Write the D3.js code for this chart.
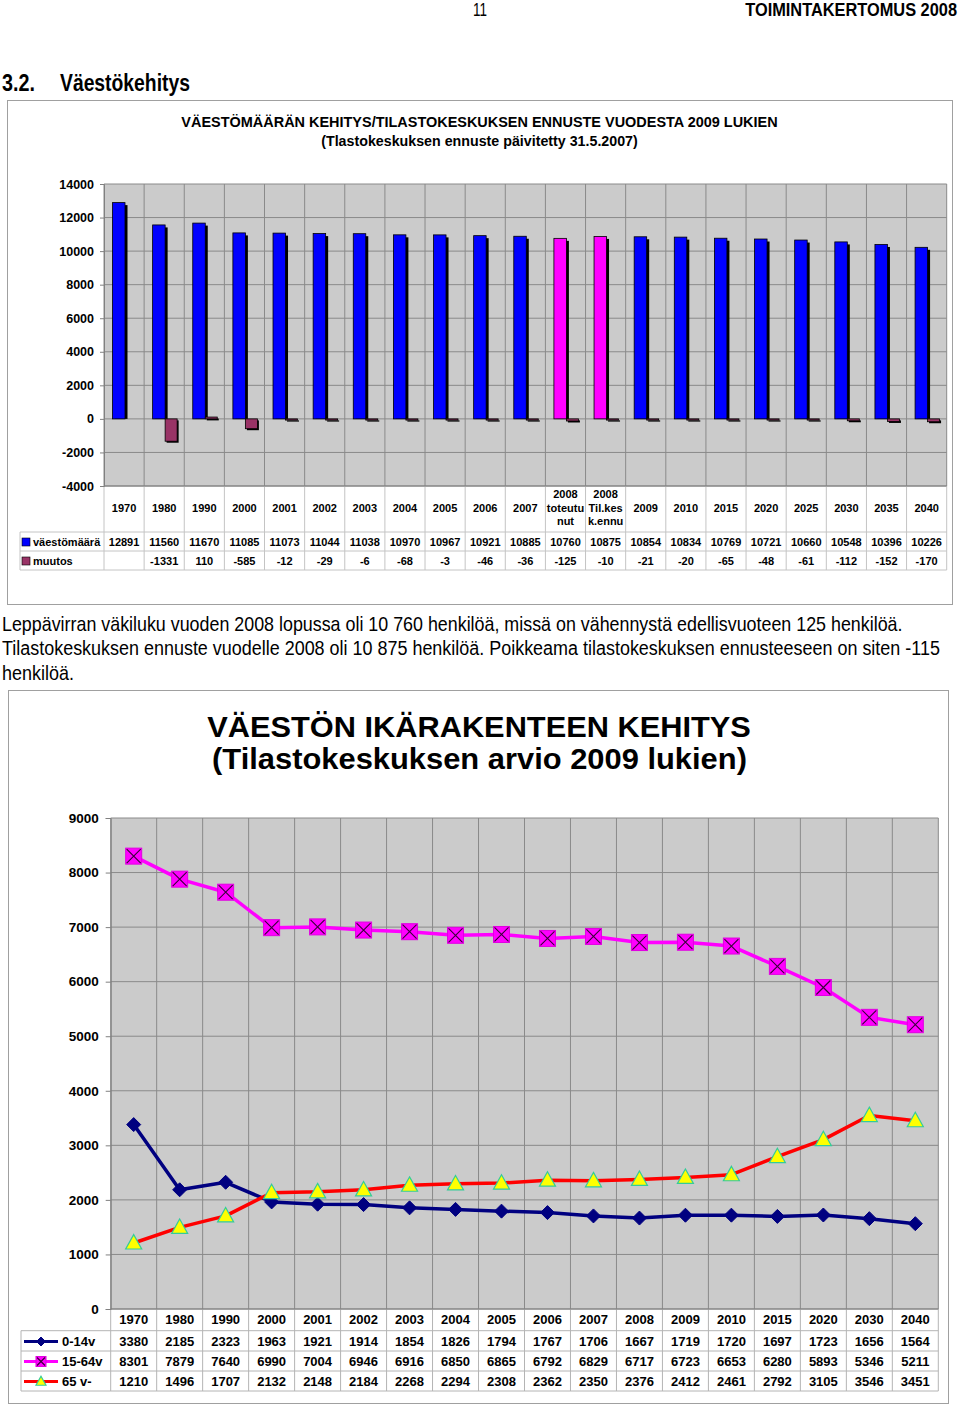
<!DOCTYPE html>
<html><head><meta charset="utf-8">
<script src="https://cdn.jsdelivr.net/npm/d3@7"></script>
<style>body{margin:0;background:#fff}svg{display:block}</style>
</head><body>
<script>
// ---------- DATA ----------
const topCategories = ["1970","1980","1990","2000","2001","2002","2003","2004","2005","2006","2007","2008\ntoteutu\nnut","2008\nTil.kes\nk.ennu","2009","2010","2015","2020","2025","2030","2035","2040"];
const vaestomaara = [12891,11560,11670,11085,11073,11044,11038,10970,10967,10921,10885,10760,10875,10854,10834,10769,10721,10660,10548,10396,10226];
const muutos = [null,-1331,110,-585,-12,-29,-6,-68,-3,-46,-36,-125,-10,-21,-20,-65,-48,-61,-112,-152,-170];
const topTicks = [14000,12000,10000,8000,6000,4000,2000,0,-2000,-4000];
const highlighted = ["2008\ntoteutu\nnut","2008\nTil.kes\nk.ennu"];

const ageYears = ["1970","1980","1990","2000","2001","2002","2003","2004","2005","2006","2007","2008","2009","2010","2015","2020","2030","2040"];
const age0_14 = [3380,2185,2323,1963,1921,1914,1854,1826,1794,1767,1706,1667,1719,1720,1697,1723,1656,1564];
const age15_64 = [8301,7879,7640,6990,7004,6946,6916,6850,6865,6792,6829,6717,6723,6653,6280,5893,5346,5211];
const age65 = [1210,1496,1707,2132,2148,2184,2268,2294,2308,2362,2350,2376,2412,2461,2792,3105,3546,3451];
const ageTicks = [0,1000,2000,3000,4000,5000,6000,7000,8000,9000];
const ageSeriesNames = ["0-14v","15-64v","65 v-"];

// ---------- SETUP ----------
const SANS = "'Liberation Sans', Arial, Helvetica, sans-serif";
const svg = d3.select("body").append("svg").attr("width",960).attr("height",1406);
svg.append("rect").attr("width",960).attr("height",1406).attr("fill","#fff");

// text squeezed horizontally to a target width via a real transform
function T(o){
  const g = svg.append("g");
  const t = g.append("text").attr("x",0).attr("y",0).text(o.text)
    .attr("font-family",SANS).attr("font-size",o.size)
    .attr("font-weight",o.weight||"normal").attr("text-anchor",o.anchor||"start")
    .attr("fill","#000");
  let sx = 1;
  if(o.len){ const nat = t.node().getComputedTextLength(); sx = o.len/nat; }
  g.attr("transform",`translate(${o.x},${o.y}) scale(${sx},1)`);
  return t;
}

// Page header
T({x:480,y:16,text:"11",size:18,anchor:"middle",len:14});
T({x:957,y:16,text:"TOIMINTAKERTOMUS 2008",size:18,weight:"bold",anchor:"end",len:212});
T({x:2,y:91,text:"3.2.",size:23,weight:"bold",len:33});
T({x:60,y:91,text:"Väestökehitys",size:23,weight:"bold",len:130});

// ---------- TOP CHART ----------
svg.append("rect").attr("x",7.5).attr("y",100.5).attr("width",945).attr("height",504)
  .attr("fill","none").attr("stroke","#a0a0a0");
T({x:479.5,y:127,text:"VÄESTÖMÄÄRÄN KEHITYS/TILASTOKESKUKSEN ENNUSTE VUODESTA 2009 LUKIEN",size:14,weight:"bold",anchor:"middle",len:597});
T({x:479.5,y:146,text:"(Tlastokeskuksen ennuste päivitetty 31.5.2007)",size:14,weight:"bold",anchor:"middle",len:317});

const tx = d3.scaleBand().domain(d3.range(topCategories.length)).range([104,946.7]).padding(0);
const ty = d3.scaleLinear().domain([-4000,14000]).range([486,184]);
const bw = tx.bandwidth();
const gTop = svg.append("g");
gTop.append("rect").attr("x",104).attr("y",184).attr("width",946.7-104).attr("height",486-184).attr("fill","#cbcbcb");
gTop.selectAll(".hg").data(topTicks).join("line")
  .attr("x1",104).attr("x2",946.7).attr("y1",d=>ty(d)).attr("y2",d=>ty(d))
  .attr("stroke","#8a8a8a").attr("stroke-width",1);
gTop.selectAll(".vg").data(d3.range(topCategories.length+1)).join("line")
  .attr("x1",i=>104+i*bw).attr("x2",i=>104+i*bw).attr("y1",184).attr("y2",486)
  .attr("stroke","#8a8a8a").attr("stroke-width",1);
gTop.selectAll(".vt").data(d3.range(topCategories.length+1)).join("line")
  .attr("x1",i=>104+i*bw).attr("x2",i=>104+i*bw).attr("y1",486).attr("y2",570)
  .attr("stroke","#c4c4c4").attr("stroke-width",1);

// bars
const bars = gTop.append("g");
vaestomaara.forEach((v,i)=>{
  const x = tx(i)+8.5, w=12.5, y=ty(v), h=ty(0)-ty(v);
  bars.append("rect").attr("x",x+2.5).attr("y",y+2.5).attr("width",w).attr("height",h-2.5).attr("fill","#000");
  bars.append("rect").attr("x",x).attr("y",y).attr("width",w).attr("height",h)
    .attr("fill",highlighted.includes(topCategories[i])?"#ff00ff":"#0000ff").attr("stroke","#000").attr("stroke-width",0.8);
});
muutos.forEach((v,i)=>{
  if(v===null) return;
  const x = tx(i)+21, w=12;
  const y0 = ty(Math.max(0,v)), y1 = ty(Math.min(0,v));
  const h = Math.max(1.2,y1-y0);
  bars.append("rect").attr("x",x+1.5).attr("y",y0+1.5).attr("width",w).attr("height",h).attr("fill","#000");
  bars.append("rect").attr("x",x).attr("y",y0).attr("width",w).attr("height",h)
    .attr("fill","#993366").attr("stroke","#000").attr("stroke-width",0.8);
});

// y axis
const yAxT = svg.append("g").attr("transform","translate(104,0)")
  .call(d3.axisLeft(ty).tickValues(topTicks).tickSize(4).tickPadding(6).tickFormat(d=>String(d)));
yAxT.select(".domain").attr("stroke","#808080");
yAxT.selectAll(".tick line").attr("stroke","#808080");
yAxT.selectAll("text").attr("font-family",SANS).attr("font-size",12.5).attr("font-weight","bold").attr("fill","#000");
svg.append("line").attr("x1",104).attr("x2",946.7).attr("y1",486).attr("y2",486).attr("stroke","#808080");

// top table
const tabT = svg.append("g");
[532,551,570].forEach(y=>tabT.append("line").attr("x1",20).attr("x2",946.7).attr("y1",y).attr("y2",y).attr("stroke","#c4c4c4"));
tabT.append("line").attr("x1",20).attr("x2",20).attr("y1",532).attr("y2",570).attr("stroke","#c4c4c4");
topCategories.forEach((c,i)=>{
  const lines = c.split("\n");
  const cx = tx(i)+bw/2;
  const t = tabT.append("text").attr("x",cx).attr("text-anchor","middle")
    .attr("font-family",SANS).attr("font-size",11).attr("font-weight","bold");
  lines.forEach((l,k)=>{
    t.append("tspan").attr("x",cx).attr("y",508+(k-(lines.length-1)/2)*13.6).attr("dy","0.35em").text(l);
  });
  tabT.append("text").attr("x",cx).attr("y",542).attr("dy","0.35em").attr("text-anchor","middle")
    .attr("font-family",SANS).attr("font-size",11).attr("font-weight","bold").text(vaestomaara[i]);
  if(muutos[i]!==null) tabT.append("text").attr("x",cx).attr("y",561).attr("dy","0.35em").attr("text-anchor","middle")
    .attr("font-family",SANS).attr("font-size",11).attr("font-weight","bold").text(muutos[i]);
});
tabT.append("rect").attr("x",22).attr("y",538).attr("width",8).attr("height",8).attr("fill","#0000ff").attr("stroke","#000").attr("stroke-width",0.6);
tabT.append("rect").attr("x",22).attr("y",557).attr("width",8).attr("height",8).attr("fill","#993366").attr("stroke","#000").attr("stroke-width",0.6);
tabT.append("text").attr("x",33).attr("y",542).attr("dy","0.35em").attr("font-family",SANS).attr("font-size",11).attr("font-weight","bold").text("väestömäärä");
tabT.append("text").attr("x",33).attr("y",561).attr("dy","0.35em").attr("font-family",SANS).attr("font-size",11).attr("font-weight","bold").text("muutos");

// ---------- PARAGRAPH ----------
T({x:2,y:631,text:"Leppävirran väkiluku vuoden 2008 lopussa oli 10 760 henkilöä, missä on vähennystä edellisvuoteen 125 henkilöä.",size:20,len:901});
T({x:2,y:655,text:"Tilastokeskuksen ennuste vuodelle 2008 oli 10 875 henkilöä. Poikkeama tilastokeskuksen ennusteeseen on siten -115",size:20,len:938});
T({x:2,y:680,text:"henkilöä.",size:20,len:72});

// ---------- BOTTOM CHART ----------
svg.append("rect").attr("x",8.5).attr("y",690.5).attr("width",940).attr("height",713)
  .attr("fill","none").attr("stroke","#a0a0a0");
T({x:479,y:737,text:"VÄESTÖN IKÄRAKENTEEN KEHITYS",size:30,weight:"bold",anchor:"middle",len:544});
T({x:479.5,y:769,text:"(Tilastokeskuksen arvio 2009 lukien)",size:30,weight:"bold",anchor:"middle",len:535});

const bx = d3.scaleBand().domain(d3.range(ageYears.length)).range([110.7,938.3]).padding(0);
const by = d3.scaleLinear().domain([0,9000]).range([1309,818]);
const bb = bx.bandwidth();
const gB = svg.append("g");
gB.append("rect").attr("x",110.7).attr("y",818).attr("width",938.3-110.7).attr("height",1309-818).attr("fill","#cbcbcb");
gB.selectAll(".hg").data(ageTicks).join("line")
  .attr("x1",110.7).attr("x2",938.3).attr("y1",d=>by(d)).attr("y2",d=>by(d)).attr("stroke","#8a8a8a");
gB.selectAll(".vg").data(d3.range(ageYears.length+1)).join("line")
  .attr("x1",i=>110.7+i*bb).attr("x2",i=>110.7+i*bb).attr("y1",818).attr("y2",1309).attr("stroke","#8a8a8a");
gB.selectAll(".vt").data(d3.range(ageYears.length+1)).join("line")
  .attr("x1",i=>110.7+i*bb).attr("x2",i=>110.7+i*bb).attr("y1",1309).attr("y2",1391).attr("stroke","#b4b4b4");

const yAxB = svg.append("g").attr("transform","translate(110.7,0)")
  .call(d3.axisLeft(by).tickValues(ageTicks).tickSize(5).tickPadding(7).tickFormat(d=>String(d)));
yAxB.select(".domain").attr("stroke","#808080");
yAxB.selectAll(".tick line").attr("stroke","#808080");
yAxB.selectAll("text").attr("font-family",SANS).attr("font-size",13.5).attr("font-weight","bold").attr("fill","#000");

const cxB = i => bx(i)+bb/2;
const line = d3.line().x((d,i)=>cxB(i)).y(d=>by(d));
const series = [
  {name:ageSeriesNames[0], data:age0_14, color:"#000080", marker:"diamond"},
  {name:ageSeriesNames[1], data:age15_64, color:"#ff00ff", marker:"square"},
  {name:ageSeriesNames[2], data:age65, color:"#ff0000", marker:"triangle"}
];
function marker(g,type,x,y,s){
  if(type==="diamond"){
    g.append("path").attr("d",`M${x},${y-s}L${x+s},${y}L${x},${y+s}L${x-s},${y}Z`).attr("fill","#000080").attr("stroke","#000080");
  } else if(type==="square"){
    g.append("rect").attr("x",x-s).attr("y",y-s).attr("width",2*s).attr("height",2*s).attr("fill","#ff00ff").attr("stroke","#e000e0").attr("stroke-width",1);
    g.append("path").attr("d",`M${x-s+1},${y-s+1}L${x+s-1},${y+s-1}M${x+s-1},${y-s+1}L${x-s+1},${y+s-1}`).attr("stroke","#3a003a").attr("stroke-width",1.1);
  } else {
    g.append("path").attr("d",`M${x},${y-s*1.05}L${x+s},${y+s*0.75}L${x-s},${y+s*0.75}Z`).attr("fill","#ffff00").attr("stroke","#33cc99").attr("stroke-width",1.2);
  }
}
series.forEach(s=>{
  gB.append("path").datum(s.data).attr("d",line).attr("fill","none").attr("stroke",s.color).attr("stroke-width",3.5).attr("stroke-linejoin","round");
});
series.forEach(s=>{
  const sz = s.marker==="diamond"?7:8;
  s.data.forEach((v,i)=>marker(gB,s.marker,cxB(i),by(v),sz));
});
svg.append("line").attr("x1",110.7).attr("x2",938.3).attr("y1",1309).attr("y2",1309).attr("stroke","#808080");

// bottom table
const tabB = svg.append("g");
[1330.7,1351,1371,1391].forEach(y=>tabB.append("line").attr("x1",21).attr("x2",938.3).attr("y1",y).attr("y2",y).attr("stroke","#b4b4b4"));
tabB.append("line").attr("x1",21).attr("x2",21).attr("y1",1330.7).attr("y2",1391).attr("stroke","#b4b4b4");
ageYears.forEach((yr,i)=>{
  tabB.append("text").attr("x",cxB(i)).attr("y",1319.5).attr("dy","0.35em").attr("text-anchor","middle")
    .attr("font-family",SANS).attr("font-size",13).attr("font-weight","bold").text(yr);
});
const rowY = [1341.5,1361.5,1381.5];
series.forEach((s,k)=>{
  s.data.forEach((v,i)=>{
    tabB.append("text").attr("x",cxB(i)).attr("y",rowY[k]).attr("dy","0.35em").attr("text-anchor","middle")
      .attr("font-family",SANS).attr("font-size",13).attr("font-weight","bold").text(v);
  });
  tabB.append("line").attr("x1",24).attr("x2",58).attr("y1",rowY[k]).attr("y2",rowY[k]).attr("stroke",s.color).attr("stroke-width",3);
  marker(tabB,s.marker,41,rowY[k],s.marker==="diamond"?4.5:5);
  tabB.append("text").attr("x",62).attr("y",rowY[k]).attr("dy","0.35em")
    .attr("font-family",SANS).attr("font-size",13).attr("font-weight","bold").text(s.name);
});
</script>
</body></html>
